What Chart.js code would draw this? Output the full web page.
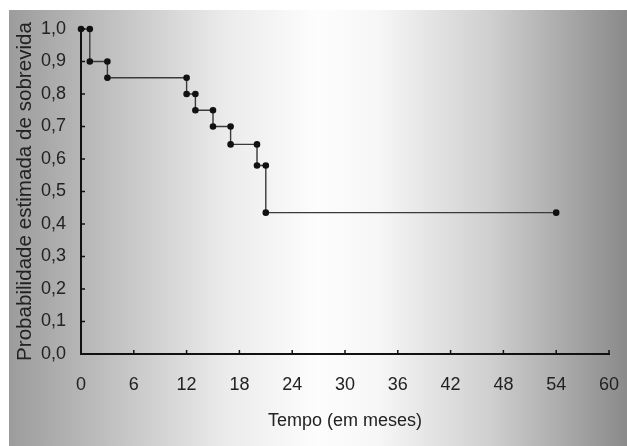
<!DOCTYPE html>
<html>
<head>
<meta charset="utf-8">
<script src="https://cdn.jsdelivr.net/npm/chart.js@4"></script>
<style>
  html, body { margin: 0; padding: 0; background: #fff; }
  #wrap { width: 627px; height: 446px; }
</style>
</head>
<body>
<div id="wrap"><canvas id="myChart"></canvas></div>
<script>
// survival data (Kaplan-Meier)
var timeMonths = [0, 1, 3, 12, 13, 15, 17, 20, 21, 54];
var survival = [1.0, 0.9, 0.85, 0.80, 0.75, 0.70, 0.645, 0.58, 0.435, 0.435];
var xTicks = [0, 6, 12, 18, 24, 30, 36, 42, 48, 54, 60];
var yTicks = [0, 0.1, 0.2, 0.3, 0.4, 0.5, 0.6, 0.7, 0.8, 0.9, 1.0];

// corner points of the step curve
var points = [{ x: timeMonths[0], y: survival[0] }];
for (var i = 1; i < timeMonths.length; i++) {
  points.push({ x: timeMonths[i], y: survival[i - 1] });
  if (survival[i] !== survival[i - 1]) {
    points.push({ x: timeMonths[i], y: survival[i] });
  }
}

var fontName = "'Liberation Sans', Arial, sans-serif";

// gray - white - gray backdrop
var backdrop = {
  id: 'backdrop',
  beforeDraw: function (chart) {
    var c = chart.ctx;
    var w = chart.width, h = chart.height;
    c.save();
    c.fillStyle = '#ffffff';
    c.fillRect(0, 0, w, h);
    var g = c.createLinearGradient(9, 0, w, 0);
    g.addColorStop(0, '#9c9c9c');
    g.addColorStop(0.18, '#c4c4c4');
    g.addColorStop(0.35, '#ebebeb');
    g.addColorStop(0.5, '#fdfdfd');
    g.addColorStop(0.6, '#f6f6f6');
    g.addColorStop(0.78, '#cfcfcf');
    g.addColorStop(1, '#8a8a8a');
    c.fillStyle = g;
    c.fillRect(9, 10, w - 9, h - 10);
    c.restore();
  }
};

// small inward tick marks on both axes
var innerTicks = {
  id: 'innerTicks',
  afterDraw: function (chart) {
    var c = chart.ctx;
    var xs = chart.scales.x, ys = chart.scales.y;
    var a = chart.chartArea;
    c.save();
    c.strokeStyle = '#111';
    c.lineWidth = 1.5;
    c.beginPath();
    xTicks.forEach(function (v) {
      if (v === 0) return;
      var px = xs.getPixelForValue(v);
      c.moveTo(px, a.bottom);
      c.lineTo(px, a.bottom - 4);
    });
    yTicks.forEach(function (v) {
      if (v === 0) return;
      var py = ys.getPixelForValue(v);
      c.moveTo(a.left, py);
      c.lineTo(a.left + 4, py);
    });
    c.stroke();
    c.restore();
  }
};

var ctx = document.getElementById('myChart').getContext('2d');
var myChart = new Chart(ctx, {
  type: 'scatter',
  data: {
    datasets: [{
      label: 'Sobrevida',
      data: points,
      showLine: true,
      clip: false,
      borderColor: '#3a3a3a',
      borderWidth: 1.4,
      pointBackgroundColor: '#111',
      pointBorderColor: '#111',
      pointRadius: 2.6,
      pointStyle: 'circle',
      tension: 0
    }]
  },
  options: {
    responsive: true,
    maintainAspectRatio: false,
    animation: false,
    layout: {
      padding: { left: 0, top: 29, right: 18, bottom: 0 }
    },
    plugins: {
      legend: { display: false },
      tooltip: { enabled: false }
    },
    scales: {
      x: {
        type: 'linear',
        min: 0,
        max: 60,
        afterBuildTicks: function (axis) {
          axis.ticks = xTicks.map(function (v) { return { value: v }; });
        },
        afterFit: function (axis) {
          axis.height = 92;
          axis.paddingRight = 0;
        },
        grid: { display: false, drawTicks: false },
        border: { display: true, color: '#111', width: 2 },
        ticks: {
          color: '#222',
          padding: 20,
          maxRotation: 0,
          font: { family: fontName, size: 18 }
        },
        title: {
          display: true,
          text: 'Tempo (em meses)',
          color: '#222',
          padding: { bottom: 14 },
          font: { family: fontName, size: 18 }
        }
      },
      y: {
        type: 'linear',
        min: 0,
        max: 1,
        afterBuildTicks: function (axis) {
          axis.ticks = yTicks.map(function (v) { return { value: v }; });
        },
        afterFit: function (axis) { axis.width = 81; },
        grid: { display: false, drawTicks: false },
        border: { display: true, color: '#111', width: 2 },
        ticks: {
          color: '#222',
          padding: 15,
          font: { family: fontName, size: 18 },
          callback: function (v) { return v.toFixed(1).replace('.', ','); }
        },
        title: {
          display: true,
          text: 'Probabilidade estimada de sobrevida',
          color: '#222',
          padding: { top: 13 },
          font: { family: fontName, size: 20.6 }
        }
      }
    }
  },
  plugins: [backdrop, innerTicks]
});
</script>
</body>
</html>
